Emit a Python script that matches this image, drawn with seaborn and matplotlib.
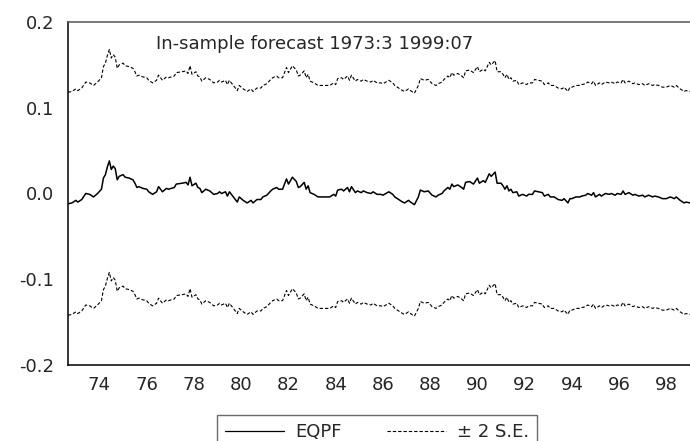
import numpy as np
import pandas as pd
import matplotlib
matplotlib.use("Agg")
import matplotlib.pyplot as plt
import seaborn as sns
from matplotlib.lines import Line2D
from matplotlib.ticker import FixedLocator, FormatStrFormatter, NullFormatter

# months after 1973:03 (first obs of the in-sample forecast)
months = [0, 2, 4, 5, 7, 9, 11, 13, 15, 17, 18, 19, 20, 21, 22, 23, 24, 25, 26, 28,
          29, 31, 33, 34, 35, 36, 38, 40, 41, 43, 45, 46, 48, 50, 51, 54, 55, 58, 60, 61,
          62, 63, 65, 66, 67, 68, 70, 72, 74, 76, 77, 78, 80, 81, 82, 84, 86, 87, 89, 91,
          93, 94, 96, 98, 99, 101, 103, 104, 106, 107, 109, 111, 112, 114, 116, 117, 118, 120, 121, 122,
          123, 125, 127, 129, 132, 133, 135, 136, 137, 139, 140, 142, 143, 144, 146, 147, 149, 150, 152, 154,
          155, 157, 159, 160, 163, 165, 166, 168, 170, 171, 173, 174, 176, 178, 179, 181, 183, 185, 187, 188,
          190, 191, 193, 194, 195, 196, 198, 200, 201, 202, 204, 206, 208, 209, 211, 212, 214, 215, 217, 218,
          220, 221, 222, 223, 224, 225, 226, 228, 229, 231, 233, 234, 236, 237, 239, 241, 242, 244, 245, 247,
          249, 251, 252, 254, 255, 256, 258, 260, 261, 263, 264, 266, 267, 268, 270, 271, 273, 275, 276, 278,
          279, 281, 282, 283, 285, 287, 288, 290, 292, 293, 295, 297, 298, 300, 302, 304, 306, 308, 309, 311,
          313, 314, 316]

eqpf = [-0.012, -0.011, -0.008, -0.010, -0.007, 0.000, -0.001, -0.004, 0.000, 0.005,
        0.018, 0.022, 0.031, 0.038, 0.028, 0.032, 0.029, 0.016, 0.020, 0.022,
        0.019, 0.018, 0.016, 0.012, 0.007, 0.008, 0.006, 0.005, 0.002, -0.001,
        0.002, 0.008, 0.002, 0.006, 0.005, 0.007, 0.011, 0.012, 0.013, 0.010,
        0.019, 0.009, 0.012, 0.007, 0.006, 0.001, 0.005, 0.003, -0.001, 0.000,
        0.002, 0.000, 0.002, -0.003, 0.002, -0.004, -0.010, -0.004, -0.008, -0.011,
        -0.008, -0.011, -0.007, -0.007, -0.004, -0.002, 0.003, 0.005, 0.007, 0.005,
        0.005, 0.017, 0.011, 0.019, 0.014, 0.007, 0.008, 0.013, 0.005, 0.009,
        0.001, -0.001, -0.004, -0.004, -0.004, -0.004, -0.001, -0.003, 0.004, 0.005,
        0.003, 0.007, 0.002, 0.008, 0.001, 0.003, 0.001, 0.003, 0.001, 0.000,
        0.002, -0.001, -0.001, -0.002, 0.002, -0.001, -0.004, -0.007, -0.010, -0.011,
        -0.008, -0.010, -0.013, -0.004, 0.004, 0.002, 0.003, -0.002, -0.004, -0.002,
        0.000, 0.003, 0.007, 0.005, 0.011, 0.008, 0.010, 0.007, 0.005, 0.013,
        0.014, 0.011, 0.018, 0.012, 0.015, 0.013, 0.023, 0.020, 0.025, 0.012,
        0.012, 0.009, 0.005, 0.009, 0.003, 0.005, 0.001, 0.002, -0.003, -0.001,
        -0.003, -0.001, -0.001, 0.003, 0.002, 0.001, -0.003, -0.001, -0.004, -0.004,
        -0.007, -0.008, -0.006, -0.011, -0.006, -0.006, -0.004, -0.004, -0.003, -0.002,
        0.000, -0.002, 0.001, -0.004, -0.001, -0.003, 0.000, -0.001, 0.000, -0.002,
        0.000, -0.001, 0.003, -0.001, 0.001, -0.002, -0.001, -0.003, -0.002, -0.004,
        -0.002, -0.004, -0.003, -0.004, -0.006, -0.006, -0.004, -0.006, -0.004, -0.008,
        -0.011, -0.010, -0.011]

two_se = 0.13  # width of the +/- 2 S.E. band

year_ticks = list(range(1974, 2000))
year_labels = ["74", "76", "78", "80", "82", "84", "86", "88", "90", "92", "94", "96", "98"]

df = pd.DataFrame({"months": months, "eqpf": eqpf})
df["year"] = 1973 + (2 + df["months"]) / 12
df["upper"] = df["eqpf"] + two_se
df["lower"] = df["eqpf"] - two_se

sns.set_style("white")
plt.rcParams["font.family"] = ["DejaVu Sans"]
plt.rcParams["axes.unicode_minus"] = False

fig = plt.figure(figsize=(6.9, 4.41), dpi=100)
ax = fig.add_axes([68 / 690, 1 - 365 / 441, 622 / 690, 343 / 441])

dash = (0, (3, 1.8))
sns.lineplot(data=df, x="year", y="eqpf", ax=ax, color="black", linewidth=1.1)
sns.lineplot(data=df, x="year", y="upper", ax=ax, color="black", linewidth=0.8, linestyle=dash)
sns.lineplot(data=df, x="year", y="lower", ax=ax, color="black", linewidth=0.8, linestyle=dash)

ax.set_xlim(1973 + 2 / 12, 1999 + 6 / 12)
ax.set_ylim(-0.2, 0.2)
ax.set_xlabel("")
ax.set_ylabel("")

# year boundaries get ticks, labels sit in the middle of even years
ax.xaxis.set_major_locator(FixedLocator(year_ticks))
ax.xaxis.set_major_formatter(NullFormatter())
ax.xaxis.set_minor_locator(FixedLocator([1974.5 + 2 * i for i in range(len(year_labels))]))
ax.set_xticklabels(year_labels, minor=True)
ax.tick_params(axis="x", which="major", direction="out", length=5, width=1, color="black")
ax.tick_params(axis="x", which="minor", length=0, pad=8, labelsize=13)

ax.set_yticks([-0.2, -0.1, 0.0, 0.1, 0.2])
ax.yaxis.set_major_formatter(FormatStrFormatter("%.1f"))
ax.tick_params(axis="y", direction="out", length=7, width=1, color="black", pad=3, labelsize=13)

for side in ["left", "bottom"]:
    ax.spines[side].set_color("black")
    ax.spines[side].set_linewidth(1.1)
ax.spines["top"].set_color("#555555")
ax.spines["top"].set_linewidth(1.1)
ax.spines["right"].set_visible(False)

ax.text(0.397, 0.937, "In-sample forecast 1973:3 1999:07", transform=ax.transAxes,
        ha="center", va="center", fontsize=13)

handles = [Line2D([], [], color="black", linewidth=0.9),
           Line2D([], [], color="black", linewidth=0.8, linestyle=dash)]
leg = fig.legend(handles, ["EQPF", "\u00b1 2 S.E."], loc="upper center",
                 bbox_to_anchor=(377 / 690, 1 - 415 / 441), ncol=2, fontsize=13,
                 frameon=True, fancybox=False, edgecolor="#444444",
                 handlelength=3.3, columnspacing=2.5, handletextpad=0.6,
                 borderpad=0.45, borderaxespad=0)
leg.get_frame().set_linewidth(1.0)

fig.savefig("out.png", dpi=100)
